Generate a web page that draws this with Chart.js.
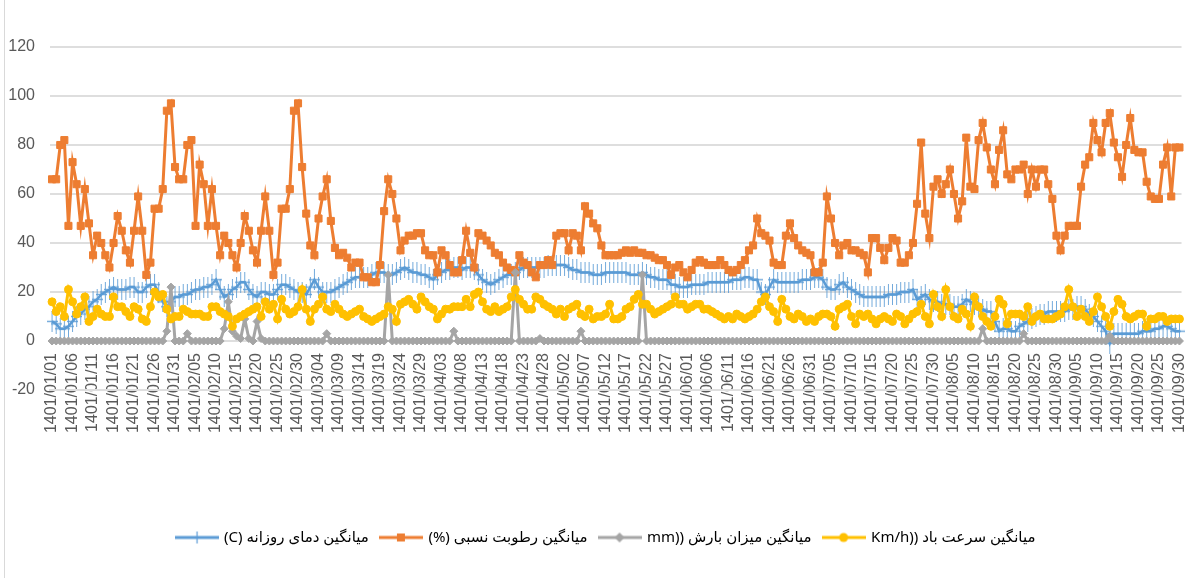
<!DOCTYPE html>
<html>
<head>
<meta charset="utf-8">
<title>Daily climate 1401</title>
<script src="https://cdn.jsdelivr.net/npm/chart.js@4.4.1/dist/chart.umd.min.js"></script>
<style>
  html, body { margin: 0; padding: 0; background: #fff; }
  #wrap { position: relative; width: 1189px; height: 578px; }
  #wrap::before { content: ''; position: absolute; left: 4px; top: 0; bottom: 0; border-left: 1px solid #d9d9d9; }
</style>
</head>
<body>
<div id="wrap"><canvas id="climateChart" width="1189" height="578"></canvas></div>
<script>
// Category labels: every day of 1401/01/01 .. 1401/09/30 (months 1-6 have 31 days, 7-9 have 30)
const monthLengths = [31, 31, 31, 31, 31, 31, 30, 30, 30];
const days = [];
monthLengths.forEach((len, m) => {
    for (let d = 1; d <= len; d++) {
        days.push('1401/' + String(m + 1).padStart(2, '0') + '/' + String(d).padStart(2, '0'));
    }
});

const seriesNames = [
    'میانگین دمای روزانه (C)',
    'میانگین رطوبت نسبی (%)',
    'میانگین میزان بارش ((mm',
    'میانگین سرعت باد ((Km/h'
];

// Average daily temperature
const temperature = [
    8, 7, 5, 5, 6, 8, 10, 11, 13, 14,
    16, 17, 19, 20, 21, 22, 21, 21, 21, 22,
    22, 20, 20, 22, 23, 23, 20, 16, 14, 16,
    18, 18, 19, 19, 20, 21, 21, 22, 22, 23,
    25, 21, 18, 19, 21, 22, 24, 24, 21, 19,
    18, 20, 20, 19, 19, 21, 23, 23, 22, 21,
    20, 20, 19, 22, 25, 22, 20, 20, 20, 21,
    22, 23, 24, 25, 26, 26, 26, 26, 27, 28,
    28, 28, 27, 27, 28, 29, 30, 29, 28, 28,
    27, 27, 26, 25, 27, 28, 29, 29, 30, 30,
    29, 30, 30, 29, 27, 25, 24, 23, 24, 25,
    26, 27, 27, 28, 29, 30, 30, 30, 30, 30,
    30, 31, 31, 31, 31, 31, 30, 29, 29, 28,
    28, 28, 27, 27, 27, 28, 28, 28, 28, 28,
    28, 27, 27, 27, 28, 27, 26, 26, 25, 25,
    25, 23, 23, 22, 22, 22, 23, 23, 23, 23,
    24, 24, 24, 24, 24, 24, 25, 25, 25, 26,
    26, 25, 25, 20, 19, 22, 25, 24, 24, 24,
    24, 24, 24, 25, 25, 25, 26, 26, 25, 22,
    21, 21, 23, 24, 22, 21, 20, 19, 18, 18,
    18, 18, 18, 18, 19, 19, 19, 20, 20, 20,
    21, 17, 18, 19, 17, 16, 16, 15, 15, 15,
    14, 14, 15, 17, 16, 15, 14, 13, 12, 12,
    8, 4, 5, 5, 4, 4, 6, 7, 8, 9,
    10, 11, 11, 12, 12, 12, 12, 12, 13, 13,
    14, 14, 13, 11, 10, 8, 6, 4, -1, 3,
    3, 3, 3, 3, 3, 3, 4, 4, 4, 5,
    5, 6, 6, 5, 4, 4
];

// Average relative humidity
const humidity = [
    66, 66, 80, 82, 47, 73, 64, 47, 62, 48,
    35, 43, 40, 35, 30, 40, 51, 45, 37, 32,
    45, 59, 45, 27, 32, 54, 54, 62, 94, 97,
    71, 66, 66, 80, 82, 47, 72, 64, 47, 62,
    47, 35, 43, 40, 35, 30, 40, 51, 45, 37,
    32, 45, 59, 45, 27, 32, 54, 54, 62, 94,
    97, 71, 52, 39, 35, 50, 59, 66, 49, 38,
    35, 36, 34, 30, 32, 32, 26, 26, 24, 24,
    31, 53, 66, 60, 50, 37, 41, 43, 43, 44,
    44, 37, 35, 35, 28, 37, 35, 31, 28, 28,
    33, 45, 36, 30, 44, 43, 41, 39, 36, 35,
    32, 30, 29, 28, 35, 32, 31, 28, 26, 31,
    31, 33, 31, 43, 44, 44, 37, 44, 43, 37,
    55, 52, 48, 46, 39, 35, 35, 35, 35, 36,
    37, 36, 37, 36, 36, 35, 35, 34, 33, 33,
    31, 27, 30, 31, 28, 26, 29, 32, 33, 32,
    31, 31, 31, 33, 31, 29, 28, 29, 31, 33,
    37, 39, 50, 44, 43, 41, 32, 31, 31, 43,
    48, 42, 39, 37, 36, 35, 28, 28, 32, 59,
    50, 40, 35, 39, 40, 37, 37, 36, 35, 28,
    42, 42, 38, 33, 38, 42, 41, 32, 32, 35,
    40, 56, 81, 52, 42, 63, 66, 60, 64, 70,
    60, 50, 57, 83, 63, 62, 82, 89, 79, 70,
    64, 78, 86, 68, 66, 70, 70, 72, 60, 70,
    63, 70, 70, 64, 58, 43, 37, 43, 47, 47,
    47, 63, 72, 75, 89, 82, 77, 89, 93, 81,
    75, 67, 80, 91, 78, 77, 77, 65, 59, 58,
    58, 72, 79, 59, 79, 79
];

// Average precipitation
const precipitation = [
    0, 0, 0, 0, 0, 0, 0, 0, 0, 0,
    0, 0, 0, 0, 0, 0, 0, 0, 0, 0,
    0, 0, 0, 0, 0, 0, 0, 0, 4, 22,
    0, 0, 0, 3, 0, 0, 0, 0, 0, 0,
    0, 0, 5, 16, 4, 2, 1, 9, 1, 0,
    8, 1, 0, 0, 0, 0, 0, 0, 0, 0,
    0, 0, 0, 0, 0, 0, 0, 3, 0, 0,
    0, 0, 0, 0, 0, 0, 0, 0, 0, 0,
    0, 0, 27, 0, 0, 0, 0, 0, 0, 0,
    0, 0, 0, 0, 0, 0, 0, 0, 4, 0,
    0, 0, 0, 0, 0, 0, 0, 0, 0, 0,
    0, 0, 0, 28, 0, 0, 0, 0, 0, 1,
    0, 0, 0, 0, 0, 0, 0, 0, 0, 4,
    0, 0, 0, 0, 0, 0, 0, 0, 0, 0,
    0, 0, 0, 0, 27, 0, 0, 0, 0, 0,
    0, 0, 0, 0, 0, 0, 0, 0, 0, 0,
    0, 0, 0, 0, 0, 0, 0, 0, 0, 0,
    0, 0, 0, 0, 0, 0, 0, 0, 0, 0,
    0, 0, 0, 0, 0, 0, 0, 0, 0, 0,
    0, 0, 0, 0, 0, 0, 0, 0, 0, 0,
    0, 0, 0, 0, 0, 0, 0, 0, 0, 0,
    0, 0, 0, 0, 0, 0, 0, 0, 0, 0,
    0, 0, 0, 0, 0, 0, 0, 5, 0, 0,
    0, 0, 0, 0, 0, 0, 0, 3, 0, 0,
    0, 0, 0, 0, 0, 0, 0, 0, 0, 0,
    0, 0, 0, 0, 0, 0, 0, 0, 2, 0,
    0, 0, 0, 0, 0, 0, 0, 0, 0, 0,
    0, 0, 0, 0, 0, 0
];

// Average wind speed
const windSpeed = [
    16, 12, 14, 10, 21, 16, 11, 14, 18, 8,
    10, 13, 11, 10, 10, 18, 14, 14, 12, 10,
    14, 13, 9, 8, 14, 20, 18, 19, 13, 9,
    10, 10, 13, 12, 11, 11, 11, 10, 10, 14,
    14, 12, 11, 10, 6, 9, 10, 11, 12, 13,
    14, 10, 16, 13, 15, 9, 17, 13, 11, 12,
    14, 21, 13, 8, 13, 15, 18, 13, 12, 15,
    13, 11, 10, 11, 12, 13, 10, 9, 8, 9,
    10, 11, 14, 13, 8, 15, 16, 17, 15, 13,
    18, 16, 14, 13, 9, 11, 13, 13, 14, 14,
    14, 17, 14, 19, 20, 16, 13, 12, 14, 12,
    13, 14, 18, 21, 17, 15, 13, 13, 18, 17,
    15, 14, 13, 11, 13, 10, 13, 14, 15, 11,
    10, 13, 9, 10, 10, 11, 15, 9, 9, 10,
    13, 14, 17, 19, 15, 15, 13, 11, 12, 13,
    14, 15, 18, 15, 15, 13, 14, 15, 15, 13,
    13, 12, 11, 10, 9, 10, 9, 11, 10, 9,
    10, 11, 13, 16, 18, 14, 12, 8, 17, 13,
    10, 9, 11, 10, 8, 9, 8, 10, 11, 11,
    10, 6, 13, 14, 15, 10, 7, 11, 10, 11,
    9, 7, 9, 10, 9, 8, 11, 10, 7, 9,
    11, 12, 15, 10, 7, 19, 14, 10, 21, 14,
    10, 9, 13, 11, 6, 18, 14, 10, 8, 6,
    10, 17, 15, 7, 11, 11, 11, 10, 14, 8,
    10, 11, 9, 9, 9, 10, 11, 14, 21, 14,
    10, 13, 10, 8, 12, 18, 14, 10, 6, 12,
    17, 15, 10, 9, 10, 11, 11, 6, 9, 9,
    10, 10, 8, 9, 9, 9
];

const yTicks = { min: -20, max: 120, step: 20 };
const colors = ['#5B9BD5', '#ED7D31', '#A5A5A5', '#FFC000'];
const gridColor = '#dedede';

// small helper to paint marker images on an offscreen canvas
function makeCanvas(w, h, paint) {
    const c = document.createElement('canvas');
    c.width = w;
    c.height = h;
    paint(c.getContext('2d'), w, h);
    return c;
}

// temperature marker: plus sign with a long vertical bar
const tempMarker = makeCanvas(11, 21, (g, w, h) => {
    g.strokeStyle = 'rgba(91,155,213,0.85)';
    g.lineWidth = 1;
    g.beginPath(); g.moveTo(5.5, 0); g.lineTo(5.5, h); g.stroke();
    g.lineWidth = 1.5;
    g.beginPath(); g.moveTo(0, 10.5); g.lineTo(w, 10.5); g.stroke();
});

// legend swatches: line with the marker in the middle
function swatch(color, marker) {
    return makeCanvas(44, 14, (g, w, h) => {
        g.strokeStyle = color;
        g.fillStyle = color;
        g.lineWidth = 3;
        g.beginPath(); g.moveTo(0, 7); g.lineTo(w, 7); g.stroke();
        marker(g, 22, 7);
    });
}
const legendImages = [
    swatch(colors[0], (g, x, y) => { g.lineWidth = 1.2; g.beginPath(); g.moveTo(x + 0.5, y - 6); g.lineTo(x + 0.5, y + 6); g.stroke(); }),
    swatch(colors[1], (g, x, y) => { g.fillRect(x - 4, y - 4, 8, 8); }),
    swatch(colors[2], (g, x, y) => { g.beginPath(); g.moveTo(x, y - 5); g.lineTo(x + 5, y); g.lineTo(x, y + 5); g.lineTo(x - 5, y); g.closePath(); g.fill(); }),
    swatch(colors[3], (g, x, y) => { g.beginPath(); g.arc(x, y, 4.5, 0, Math.PI * 2); g.fill(); })
];

const tickFont = { family: "'Liberation Sans', Arial, sans-serif", size: 16 };

const ctx = document.getElementById('climateChart').getContext('2d');
new Chart(ctx, {
    type: 'line',
    data: {
        labels: days,
        datasets: [
            {
                label: seriesNames[0],
                data: temperature,
                borderColor: colors[0],
                backgroundColor: colors[0],
                borderWidth: 2.5,
                pointStyle: tempMarker,
                pointRadius: 5,
                order: 4
            },
            {
                label: seriesNames[1],
                data: humidity,
                borderColor: colors[1],
                backgroundColor: colors[1],
                borderWidth: 3,
                pointStyle: 'rect',
                pointRadius: 5,
                pointBorderWidth: 1,
                order: 3
            },
            {
                label: seriesNames[2],
                data: precipitation,
                borderColor: colors[2],
                backgroundColor: colors[2],
                borderWidth: 3,
                pointStyle: 'rectRot',
                pointRadius: 4,
                pointBorderWidth: 1,
                order: 2
            },
            {
                label: seriesNames[3],
                data: windSpeed,
                borderColor: colors[3],
                backgroundColor: colors[3],
                borderWidth: 3,
                pointStyle: 'circle',
                pointRadius: 4,
                pointBorderWidth: 1,
                order: 1
            }
        ].map(ds => Object.assign(ds, { xAxisID: 'x', yAxisID: 'y', tension: 0, fill: false }))
    },
    options: {
        responsive: false,
        animation: false,
        layout: { padding: { top: 47, right: 4, bottom: 23, left: 6 } },
        plugins: {
            tooltip: { enabled: false },
            legend: {
                position: 'bottom',
                fullSize: false,
                labels: {
                    usePointStyle: true,
                    pointStyleWidth: 40,
                    padding: 12,
                    color: '#595959',
                    font: { family: "'Noto Sans', 'DejaVu Sans', sans-serif", size: 15 },
                    // RLE ... PDF so the Persian names run right-to-left like the original;
                    // a few trailing no-break spaces on the last item nudge the row left a bit
                    generateLabels: (chart) => chart.data.datasets.map((ds, i, all) => ({
                        text: '\u202B' + ds.label + '\u202C' + (i === all.length - 1 ? '\u00A0\u00A0\u00A0\u00A0\u00A0' : ''),
                        pointStyle: legendImages[i],
                        fillStyle: colors[i],
                        strokeStyle: colors[i],
                        lineWidth: 0,
                        hidden: false,
                        datasetIndex: i
                    }))
                }
            }
        },
        scales: {
            x: {
                type: 'category',
                offset: true,
                position: { y: 0 },
                grid: { display: false, drawTicks: false },
                border: { display: true, color: gridColor },
                ticks: {
                    autoSkip: false,
                    minRotation: 90,
                    maxRotation: 90,
                    padding: 12,
                    color: '#595959',
                    font: tickFont,
                    callback: function (value, index) {
                        return index % 5 === 0 ? this.getLabelForValue(value) : '';
                    }
                },
                afterFit: (scale) => { scale.paddingLeft = 0; scale.paddingRight = 0; }
            },
            // empty axis that leaves room for the rotated labels; its border doubles the -20 line
            xSpacer: {
                type: 'linear',
                position: 'bottom',
                grid: { display: false, drawTicks: false },
                border: { display: true, color: gridColor, width: 2 },
                ticks: { display: false },
                afterFit: (scale) => { scale.height = 128; }
            },
            y: {
                min: yTicks.min,
                max: yTicks.max,
                ticks: { stepSize: yTicks.step, color: '#595959', font: tickFont, padding: 15 },
                grid: { color: gridColor, lineWidth: 2, drawTicks: false },
                border: { display: false },
                afterFit: (scale) => { scale.width = 44; }
            }
        }
    }
});
</script>
</body>
</html>
